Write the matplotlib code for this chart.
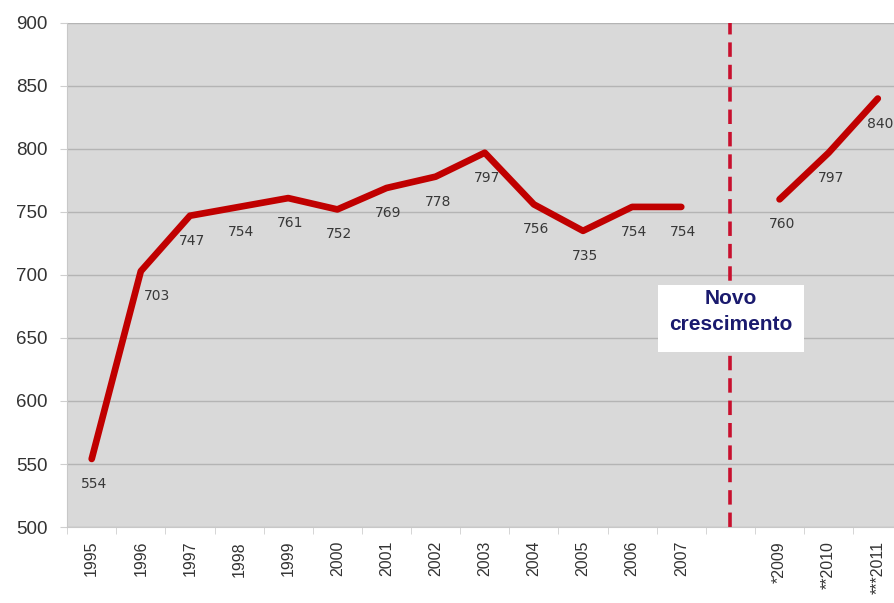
import matplotlib.pyplot as plt
from matplotlib.patches import Rectangle
import numpy as np

# data (2008 has no value)
years = ["1995", "1996", "1997", "1998", "1999", "2000", "2001", "2002", "2003",
         "2004", "2005", "2006", "2007", "", "*2009", "**2010", "***2011"]
values = [554, 703, 747, 754, 761, 752, 769, 778, 797, 756, 735, 754, 754,
          None, 760, 797, 840]
y_ticks = [500, 550, 600, 650, 700, 750, 800, 850, 900]
gap_label = "Novo\ncrescimento"

red = "#c00000"
x = np.arange(len(years))
vals = np.array([np.nan if v is None else v for v in values], dtype=float)

fig = plt.figure(figsize=(8.95, 6.03), dpi=100)
ax = fig.add_axes([0.075, 0.126, 0.925, 0.836])
ax.set_facecolor("#d9d9d9")

ax.plot(x, vals, color=red, linewidth=4.8, solid_capstyle="round",
        solid_joinstyle="round", zorder=3)

# data labels below each point
for xi, v in zip(x, values):
    if v is None:
        continue
    dx = 12 if xi == 1 else 1.5
    ax.annotate(str(v), (xi, v), xytext=(dx, -18), textcoords="offset points",
                ha="center", va="center", fontsize=10, color="#383838",
                family="DejaVu Sans", zorder=4)

# dashed separator at the empty 2008 slot
gap = years.index("")
ax.axvline(gap, color="#c8102e", linewidth=2.6, linestyle=(0, (4, 2.2)), zorder=2)

# white label box over the separator
ax.add_patch(Rectangle((gap - 1.47, 639), 2.97, 53, facecolor="white",
                       edgecolor="none", zorder=5))
ax.text(gap, 671, gap_label, ha="center", va="center", fontsize=15,
        fontweight="bold", color="#1a1a6e", family="Liberation Sans",
        linespacing=1.5, zorder=6)

ax.set_ylim(500, 900)
ax.set_xlim(-0.5, 16.35)
ax.set_yticks(y_ticks)
ax.set_yticklabels([str(t) for t in y_ticks], fontsize=13.5, color="#333333",
                   family="Liberation Sans")
ax.set_xticks(x)
ax.set_xticklabels(years, rotation=90, fontsize=11.5, color="#333333",
                   family="Liberation Sans")
ax.set_xticks(np.arange(-0.5, 16.5, 1), minor=True)
ax.tick_params(axis="x", which="major", length=0, pad=10)
ax.tick_params(axis="x", which="minor", length=5, color="#cfcfcf")
ax.tick_params(axis="y", length=5, color="#cfcfcf", pad=9)

ax.grid(axis="y", color="#b4b4b4", linewidth=1)
ax.set_axisbelow(True)
for side in ["top", "right"]:
    ax.spines[side].set_visible(False)
ax.spines["left"].set_color("#c8c8c8")
ax.spines["bottom"].set_color("#c8c8c8")

fig.savefig("out.png", dpi=100)
